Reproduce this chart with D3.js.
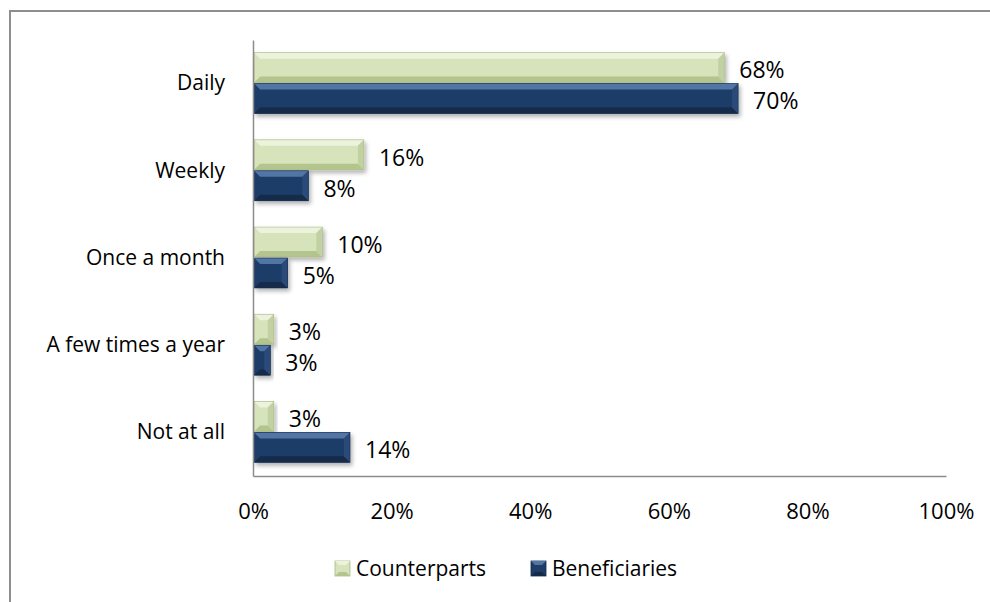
<!DOCTYPE html>
<html>
<head>
<meta charset="utf-8">
<script src="https://cdn.jsdelivr.net/npm/d3@7"></script>
<style>
  body { margin: 0; background: #fff; }
  svg { display: block; font-family: "Open Sans", sans-serif; }
</style>
</head>
<body>
<svg id="chart" width="990" height="602"></svg>
<script>
var categories = ["Daily", "Weekly", "Once a month", "A few times a year", "Not at all"];
var seriesNames = ["Counterparts", "Beneficiaries"];
var counterparts = [68, 16, 10, 3, 3];
var beneficiaries = [70, 8, 5, 2.5, 14];
var tickValues = [0, 20, 40, 60, 80, 100];

// colours per series: main, light bevel, dark bevel, end bevel
var palette = {
    Counterparts:  { main: "#d6e3bb", light: "#ecf3dd", dark: "#b3c48d", end: "#c2d1a1", stroke: "#a9ba84" },
    Beneficiaries: { main: "#1f3d67", light: "#5176a6", dark: "#132a48", end: "#2c4c7a", stroke: "#142c4c" }
};

var svg = d3.select("#chart");
var margin = { left: 253, right: 44, top: 40, bottom: 126 };
var W = 990, H = 602;

// outer frame (only top and left edges show)
svg.append("rect")
    .attr("x", 10).attr("y", 11)
    .attr("width", 1000).attr("height", 700)
    .attr("fill", "none")
    .attr("stroke", "#8e8e8e")
    .attr("stroke-width", 2);

var defs = svg.append("defs");
var f = defs.append("filter").attr("id", "shadow")
    .attr("x", "-10%").attr("y", "-20%").attr("width", "130%").attr("height", "160%");
f.append("feDropShadow")
    .attr("dx", 2).attr("dy", 3).attr("stdDeviation", 2)
    .attr("flood-color", "#000").attr("flood-opacity", 0.3);

var x = d3.scaleLinear().domain([0, 100]).range([margin.left, W - margin.right]);
var y = d3.scaleBand().domain(categories).range([margin.top, H - margin.bottom])
    .paddingInner(0.29).paddingOuter(0.145);
var ySub = d3.scaleBand().domain(seriesNames).range([0, y.bandwidth()]);

var rows = categories.map(function(c, i) {
    return { cat: c, values: [
        { name: "Counterparts", v: counterparts[i] },
        { name: "Beneficiaries", v: beneficiaries[i] }
    ]};
});

var groups = svg.selectAll("g.row")
    .data(rows)
    .enter()
    .append("g")
    .attr("class", "row")
    .attr("transform", function(d) { return "translate(0," + y(d.cat) + ")"; });

var bars = groups.selectAll("g.bar")
    .data(function(d) { return d.values; })
    .enter()
    .append("g")
    .attr("class", "bar")
    .attr("filter", "url(#shadow)");

function barGeom(d) {
    var x0 = x(0) + 1, x1 = x(d.v);
    var y0 = ySub(d.name), h = ySub.bandwidth() - 1;
    var b = Math.min(6, (x1 - x0) / 2, h / 3);
    return { x0: x0, x1: x1, y0: y0, y1: y0 + h, b: b };
}

bars.append("rect")
    .attr("x", function(d) { return barGeom(d).x0; })
    .attr("y", function(d) { return barGeom(d).y0; })
    .attr("width", function(d) { var g = barGeom(d); return g.x1 - g.x0; })
    .attr("height", function(d) { var g = barGeom(d); return g.y1 - g.y0; })
    .attr("fill", function(d) { return palette[d.name].main; });

// bevels: top, bottom, right end, left end
bars.append("polygon")
    .attr("points", function(d) {
        var g = barGeom(d);
        return [[g.x0, g.y0], [g.x1, g.y0], [g.x1 - g.b, g.y0 + g.b], [g.x0 + g.b, g.y0 + g.b]].join(" ");
    })
    .attr("fill", function(d) { return palette[d.name].light; });
bars.append("polygon")
    .attr("points", function(d) {
        var g = barGeom(d);
        return [[g.x0, g.y1], [g.x1, g.y1], [g.x1 - g.b, g.y1 - g.b], [g.x0 + g.b, g.y1 - g.b]].join(" ");
    })
    .attr("fill", function(d) { return palette[d.name].dark; });
bars.append("polygon")
    .attr("points", function(d) {
        var g = barGeom(d);
        return [[g.x1, g.y0], [g.x1, g.y1], [g.x1 - g.b, g.y1 - g.b], [g.x1 - g.b, g.y0 + g.b]].join(" ");
    })
    .attr("fill", function(d) { return palette[d.name].end; });
bars.append("polygon")
    .attr("points", function(d) {
        var g = barGeom(d);
        return [[g.x0, g.y0], [g.x0, g.y1], [g.x0 + g.b, g.y1 - g.b], [g.x0 + g.b, g.y0 + g.b]].join(" ");
    })
    .attr("fill", function(d) { return palette[d.name].main; })
    .attr("opacity", 0.6);
bars.append("rect")
    .attr("x", function(d) { return barGeom(d).x0; })
    .attr("y", function(d) { return barGeom(d).y0; })
    .attr("width", function(d) { var g = barGeom(d); return g.x1 - g.x0; })
    .attr("height", function(d) { var g = barGeom(d); return g.y1 - g.y0; })
    .attr("fill", "none")
    .attr("stroke", function(d) { return palette[d.name].stroke; })
    .attr("stroke-width", 0.6);

// value labels
groups.selectAll("text.val")
    .data(function(d) { return d.values; })
    .enter()
    .append("text")
    .attr("class", "val")
    .attr("x", function(d) { return x(d.v) + 15; })
    .attr("y", function(d) { return ySub(d.name) + ySub.bandwidth() / 2 + 2; })
    .attr("dy", "0.36em")
    .attr("font-size", 23)
    .attr("fill", "#000")
    .text(function(d) { return Math.round(d.v) + "%"; });

// axes
var xAxis = d3.axisBottom(x).tickValues(tickValues)
    .tickFormat(function(d) { return d + "%"; }).tickSize(0).tickPadding(27);
var gx = svg.append("g")
    .attr("transform", "translate(0," + (H - margin.bottom) + ")")
    .call(xAxis);
gx.select(".domain").attr("stroke", "#8c8c8c").attr("stroke-width", 1.5);
gx.selectAll("text").attr("font-size", 22).attr("fill", "#000")
    .attr("font-family", "Open Sans, sans-serif");

var yAxis = d3.axisLeft(y).tickSize(0).tickPadding(28);
var gy = svg.append("g")
    .attr("transform", "translate(" + margin.left + ",0)")
    .call(yAxis);
gy.select(".domain").attr("stroke", "#8c8c8c").attr("stroke-width", 1.5);
gy.selectAll("text").attr("font-size", 21).attr("fill", "#000")
    .attr("font-family", "Open Sans, sans-serif");

// legend
var legendX = [335, 531];
var legend = svg.selectAll("g.legend")
    .data(seriesNames)
    .enter()
    .append("g")
    .attr("class", "legend")
    .attr("transform", function(d, i) { return "translate(" + legendX[i] + ",561)"; });
legend.append("rect")
    .attr("width", 15).attr("height", 15)
    .attr("fill", function(d) { return palette[d].main; })
    .attr("stroke", function(d) { return palette[d].stroke; })
    .attr("stroke-width", 0.8);
legend.append("polygon")
    .attr("points", "0,0 15,0 11,4 4,4")
    .attr("fill", function(d) { return palette[d].light; });
legend.append("polygon")
    .attr("points", "0,15 15,15 11,11 4,11")
    .attr("fill", function(d) { return palette[d].dark; });
legend.append("text")
    .attr("x", 21).attr("y", 7.5)
    .attr("dy", "0.36em")
    .attr("font-size", 21)
    .text(function(d) { return d; });
</script>
</body>
</html>
